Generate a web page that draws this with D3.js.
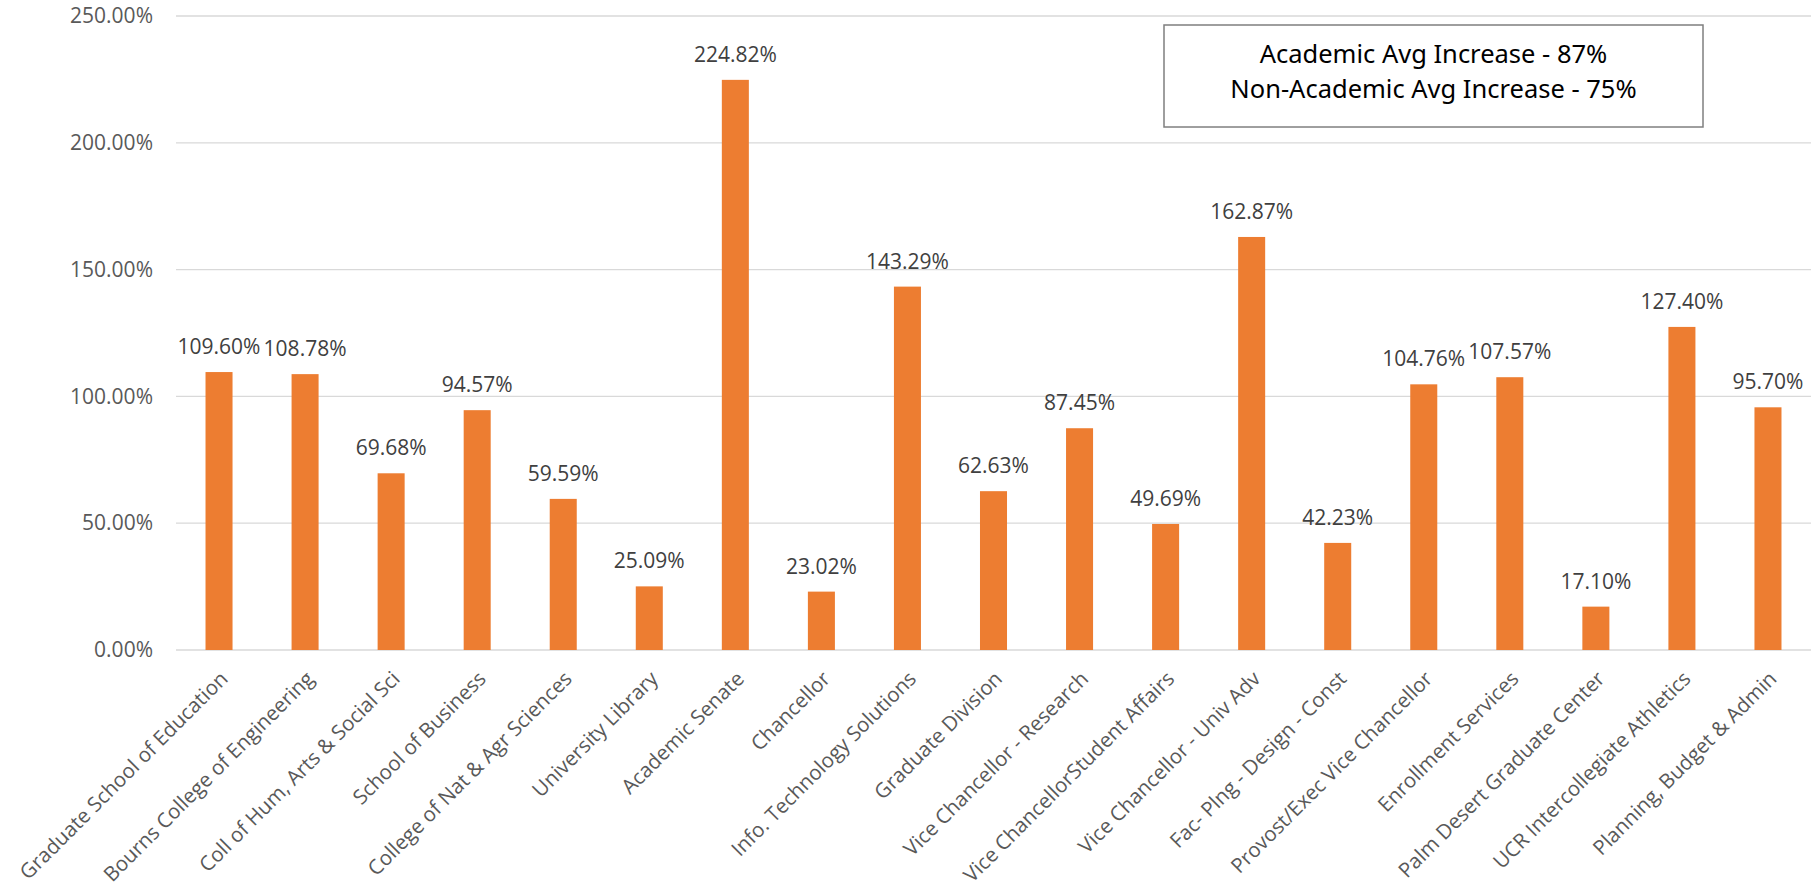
<!DOCTYPE html>
<html>
<head>
<meta charset="utf-8">
<script src="https://cdn.jsdelivr.net/npm/d3@7"></script>
<style>
  html, body { margin: 0; padding: 0; background: #fff; }
  svg { display: block; }
</style>
</head>
<body>
<svg id="chart" width="1819" height="888"></svg>
<script>
const categories = [
  "Graduate School of Education",
  "Bourns College of Engineering",
  "Coll of Hum, Arts & Social Sci",
  "School of Business",
  "College of Nat & Agr Sciences",
  "University Library",
  "Academic Senate",
  "Chancellor",
  "Info. Technology Solutions",
  "Graduate Division",
  "Vice Chancellor - Research",
  "Vice ChancellorStudent Affairs",
  "Vice Chancellor - Univ Adv",
  "Fac- Plng - Design - Const",
  "Provost/Exec Vice Chancellor",
  "Enrollment Services",
  "Palm Desert Graduate Center",
  "UCR Intercollegiate Athletics",
  "Planning, Budget & Admin"
];
const values = [109.60, 108.78, 69.68, 94.57, 59.59, 25.09, 224.82, 23.02, 143.29, 62.63, 87.45, 49.69, 162.87, 42.23, 104.76, 107.57, 17.10, 127.40, 95.70];
const yTicks = [0, 50, 100, 150, 200, 250];
const noteLines = ["Academic Avg Increase - 87%", "Non-Academic Avg Increase - 75%"];

const svg = d3.select("#chart");
const W = 1819, H = 888;
const margin = {left: 176, right: 8, top: 16, bottom: 238};
const plotBottom = H - margin.bottom;

const x = d3.scaleBand()
  .domain(categories)
  .range([margin.left, W - margin.right])
  .paddingInner(0.686)
  .paddingOuter(0.343);

const y = d3.scaleLinear()
  .domain([0, 250])
  .range([plotBottom, margin.top]);

const labelFont = "'Open Sans', 'Noto Sans', sans-serif";
const numSize = 21;

// gridlines
svg.append("g")
  .selectAll("line")
  .data(yTicks)
  .join("line")
  .attr("x1", margin.left)
  .attr("x2", W - margin.right)
  .attr("y1", d => y(d))
  .attr("y2", d => y(d))
  .attr("stroke", "#d9d9d9")
  .attr("stroke-width", 1.3);

// y axis labels
const yAxis = d3.axisLeft(y)
  .tickValues(yTicks)
  .tickFormat(d => d.toFixed(2) + "%")
  .tickSize(0)
  .tickPadding(23);
const yg = svg.append("g")
  .attr("transform", `translate(${margin.left},0)`)
  .call(yAxis);
yg.select(".domain").remove();
yg.selectAll("text")
  .attr("font-family", labelFont)
  .attr("font-size", numSize)
  .attr("fill", "#595959");

// bars
svg.append("g")
  .selectAll("rect")
  .data(values)
  .join("rect")
  .attr("x", (d, i) => x(categories[i]))
  .attr("width", x.bandwidth())
  .attr("y", d => y(d))
  .attr("height", d => plotBottom - y(d))
  .attr("fill", "#ed7d31");

// data labels
svg.append("g")
  .selectAll("text")
  .data(values)
  .join("text")
  .attr("x", (d, i) => x(categories[i]) + x.bandwidth() / 2)
  .attr("y", d => y(d) - 18)
  .attr("text-anchor", "middle")
  .attr("font-family", labelFont)
  .attr("font-size", numSize)
  .attr("fill", "#404040")
  .text(d => d.toFixed(2) + "%");

// x axis labels
const xAxis = d3.axisBottom(x).tickSize(0).tickPadding(0);
const xg = svg.append("g")
  .attr("transform", `translate(0,${plotBottom})`)
  .call(xAxis);
xg.select(".domain").remove();
xg.selectAll(".tick text")
  .attr("font-family", labelFont)
  .attr("font-size", 20.5)
  .attr("fill", "#595959")
  .attr("text-anchor", "end")
  .attr("dy", null)
  .attr("y", 0)
  .attr("transform", "translate(10,30) rotate(-45)");

// annotation box
const box = {x: 1164, y: 25, w: 539, h: 102};
svg.append("rect")
  .attr("x", box.x).attr("y", box.y)
  .attr("width", box.w).attr("height", box.h)
  .attr("fill", "#fff")
  .attr("stroke", "#7f7f7f")
  .attr("stroke-width", 1.5);
svg.append("g")
  .selectAll("text")
  .data(noteLines)
  .join("text")
  .attr("x", box.x + box.w / 2)
  .attr("y", (d, i) => 63 + i * 35)
  .attr("text-anchor", "middle")
  .attr("font-family", "'Noto Sans', 'Open Sans', sans-serif")
  .attr("font-size", 25.5)
  .attr("fill", "#000")
  .text(d => d);
</script>
</body>
</html>
